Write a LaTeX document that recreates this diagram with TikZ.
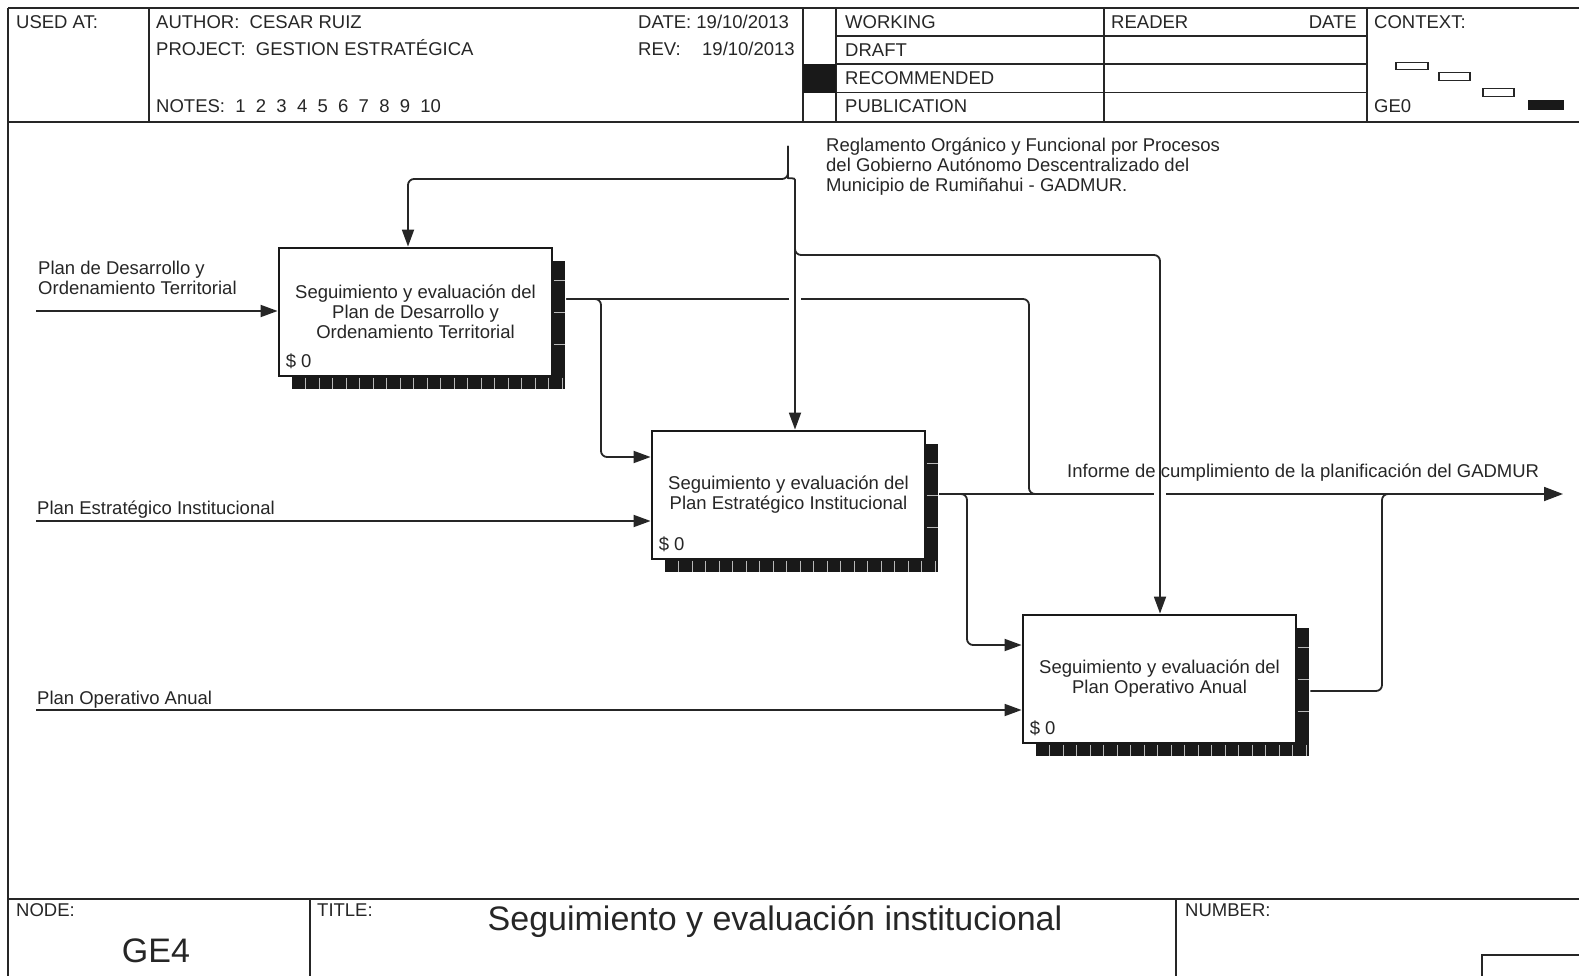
\documentclass[tikz,border=0pt]{standalone}
\usepackage{fontspec}
\setmainfont{Liberation Sans}
\usetikzlibrary{arrows.meta,calc}
\begin{document}
\begin{tikzpicture}[x=1pt,y=-1pt,
  frame/.style={line width=1.8pt, draw=black!85},
  conn/.style={line width=1.8pt, draw=black!85, rounded corners=6pt},
  arr/.style={conn, -{Triangle[length=17pt,width=12pt]}},
  bigarr/.style={conn, -{Triangle[length=19pt,width=14pt]}},
  txt/.style={font=\fontsize{18.5}{20.2}\selectfont, inner sep=0pt, text=black!85},
  bigtxt/.style={font=\fontsize{34}{40}\selectfont, inner sep=0pt, text=black!85},
  procbox/.style={draw=black!90, line width=2.8pt, fill=white,
    minimum width=273pt, minimum height=128pt, inner sep=0pt, align=center,
    font=\fontsize{18.5}{20.2}\selectfont, text=black!85},
  tick/.style={draw=gray!55, line width=0.7pt},
  ctxbox/.style={draw=black!85, line width=1.4pt}
]
\useasboundingbox (0,0) rectangle (1579,976);

% ---------- form header ----------
\draw[frame] (8,8) -- (1579,8);
\draw[frame] (8,8) -- (8,976);
\draw[frame] (8,122) -- (1579,122);
\foreach \x in {149,803,836,1104,1367} \draw[frame] (\x,8) -- (\x,122);
\foreach \y in {36.3,64.4,92.6} \draw[frame] (836,\y) -- (1367,\y);
\fill[black!90] (803,64.4) rectangle (836,92.6);

\node[txt, anchor=base west] (usedat) at (16,29) {USED AT:};
\node[txt, anchor=base west] (author) at (156,29) {AUTHOR:\ \ CESAR RUIZ};
\node[txt, anchor=base west] (project) at (156,56) {PROJECT:\ \ GESTION ESTRATÉGICA};
\node[txt, anchor=base west] (notes) at (156,113) {NOTES:\ \ 1\ \ 2\ \ 3\ \ 4\ \ 5\ \ 6\ \ 7\ \ 8\ \ 9\ \ 10};
\node[txt, anchor=base west] (date) at (638,29) {DATE: 19/10/2013};
\node[txt, anchor=base west] (rev) at (638,56) {REV:};
\node[txt, anchor=base west] (revdate) at (702,56) {19/10/2013};
\node[txt, anchor=base west] (working) at (845,29) {WORKING};
\node[txt, anchor=base west] (draft) at (845,57) {DRAFT};
\node[txt, anchor=base west] (recom) at (845,85) {RECOMMENDED};
\node[txt, anchor=base west] (publi) at (845,113) {PUBLICATION};
\node[txt, anchor=base west] (reader) at (1111,29) {READER};
\node[txt, anchor=base east] (rdate) at (1357,29) {DATE};
\node[txt, anchor=base west] (context) at (1374,29) {CONTEXT:};
\node[txt, anchor=base west] (ge0) at (1374,113) {GE0};

% context thumbnail
\draw[ctxbox] (1396,62.4) rectangle (1428,69.5);
\draw[ctxbox] (1439,72.5) rectangle (1470,80.6);
\draw[ctxbox] (1483,88.6) rectangle (1514,96.7);
\fill[black!90] (1528,99.7) rectangle (1564,109.8);

% ---------- form footer ----------
\draw[frame] (8,899) -- (1579,899);
\draw[frame] (310,899) -- (310,976);
\draw[frame] (1176,899) -- (1176,976);
\draw[frame] (1482,990) -- (1482,955) -- (1590,955);
\node[txt, anchor=base west] (nodelbl) at (16,916) {NODE:};
\node[bigtxt, anchor=base] (nodeid) at (156,962) {GE4};
\node[txt, anchor=base west] (titlelbl) at (317,916) {TITLE:};
\node[bigtxt, anchor=base] (title) at (775,930) {Seguimiento y evaluación institucional};
\node[txt, anchor=base west] (numlbl) at (1185,916) {NUMBER:};

% ---------- activity boxes ----------
\newcommand\boxshadow[2]{%
  \fill[black!90] (#1+13,#2+13) rectangle (#1+286,#2+141);
  \foreach \k in {1,...,20} \draw[tick] (#1+13+\k*13.5,#2+129.5) -- ++(0,11.5);
  \foreach \k in {1,2,3} \draw[tick] (#1+274.5,#2+\k*32) -- ++(11.5,0);
}
\boxshadow{279}{248}
\boxshadow{652}{431}
\boxshadow{1023}{615}

\node[procbox] (b1) at (415.5,312) {Seguimiento y evaluación del\\Plan de Desarrollo y\\Ordenamiento Territorial};
\node[procbox] (b2) at (788.5,495) {Seguimiento y evaluación del\\Plan Estratégico Institucional};
\node[procbox] (b3) at (1159.5,679) {Seguimiento y evaluación del\\Plan Operativo Anual};
\node[txt, anchor=base west] (c1) at ($(b1.south west)+(8,-10)$) {\$ 0};
\node[txt, anchor=base west] (c2) at ($(b2.south west)+(8,-10)$) {\$ 0};
\node[txt, anchor=base west] (c3) at ($(b3.south west)+(8,-10)$) {\$ 0};

% ---------- outputs ----------
\coordinate (o1) at ($(b1.east)+(13,-13)$);
\coordinate (o2) at ($(b2.east)+(13,-1)$);
\coordinate (o3) at ($(b3.east)+(13,12)$);
\coordinate (out) at (1563,494);

\draw[conn] (o1) -| (1029,494) -- (1045,494);
\draw[arr] (o1) -| (601,457) -- (b2.west |- 0,457);
\draw[bigarr] (o2) -- (out);
\draw[arr] (o2) -| (967,645) -- (b3.west |- 0,645);
\draw[conn] (o3) -| (1382,494) -- (1398,494);

% breaks in the horizontals where the controls pass over
\fill[white] (789,292) rectangle (801,306);
\fill[white] (1154,487) rectangle (1166,501);

% ---------- control ----------
\coordinate (ctl) at (788,146);
\coordinate (j2) at (795,238);
\draw[arr] (ctl) -- (788,179) -| (408,0 |- b1.north);
\draw[arr] (ctl) -- (788,172) .. controls (788,179) and (795,177) .. (795,186) -- (795,0 |- b2.north);
\draw[arr] (j2) -- (795,255) -- (1160,255) -- (1160,0 |- b3.north);

% ---------- inputs ----------
\coordinate (i1) at (36,311);
\coordinate (i2) at (36,521);
\coordinate (i3) at (36,710);
\draw[arr] (i1) -- (b1.west |- i1);
\draw[arr] (i2) -- (b2.west |- i2);
\draw[arr] (i3) -- (b3.west |- i3);

% ---------- arrow labels ----------
\node[txt, anchor=north west, align=left] (li1) at (38,261) {Plan de Desarrollo y\\Ordenamiento Territorial};
\node[txt, anchor=base west] (li2) at (37,514) {Plan Estratégico Institucional};
\node[txt, anchor=base west] (li3) at (37,704.5) {Plan Operativo Anual};
\node[txt, anchor=north west, align=left] (lc) at (826,137.5) {Reglamento Orgánico y Funcional por Procesos\\del Gobierno Autónomo Descentralizado del\\Municipio de Rumiñahui - GADMUR.};
\node[txt, anchor=base west] (lo) at (1067,477) {Informe de cumplimiento de la planificación del GADMUR};
\end{tikzpicture}
\end{document}
